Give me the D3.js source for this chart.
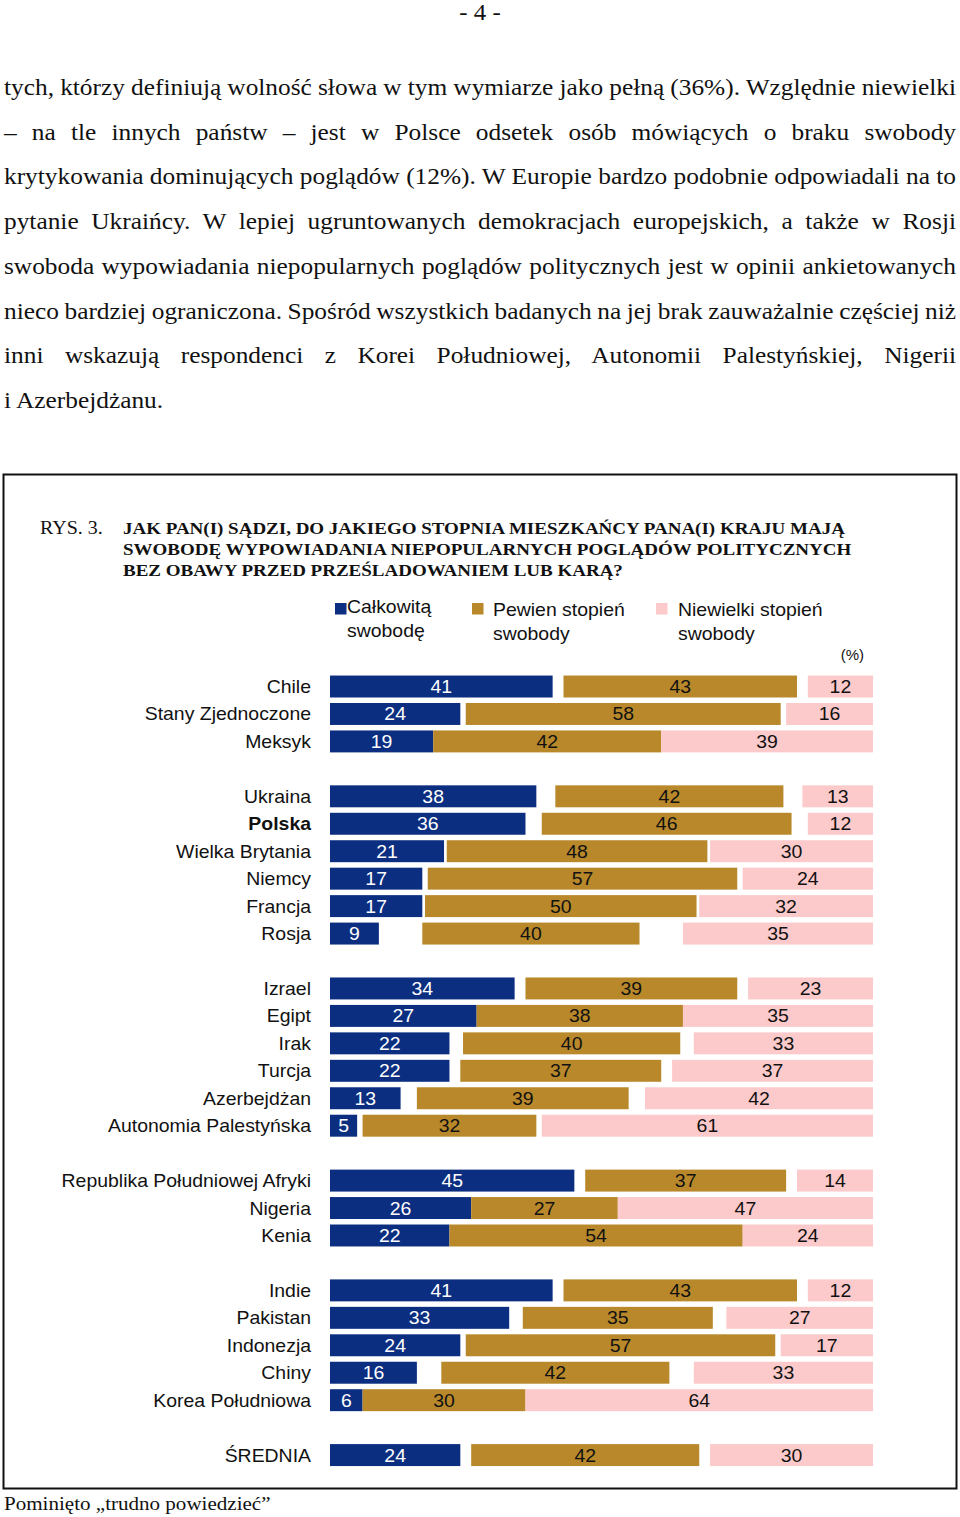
<!DOCTYPE html>
<html><head><meta charset="utf-8">
<script src="https://cdn.jsdelivr.net/npm/d3@7"></script>
<style>
html,body{margin:0;padding:0;background:#fff;}
svg{display:block;}
</style></head>
<body>
<svg id="c" width="960" height="1517"></svg>
<script>
// ---------- data ----------
const categories = ["Chile","Stany Zjednoczone","Meksyk",
 "Ukraina","Polska","Wielka Brytania","Niemcy","Francja","Rosja",
 "Izrael","Egipt","Irak","Turcja","Azerbejdżan","Autonomia Palestyńska",
 "Republika Południowej Afryki","Nigeria","Kenia",
 "Indie","Pakistan","Indonezja","Chiny","Korea Południowa",
 "ŚREDNIA"];
const groupSizes = [3, 6, 6, 3, 5, 1];
const calkowita = [41,24,19, 38,36,21,17,17,9, 34,27,22,22,13,5, 45,26,22, 41,33,24,16,6, 24];
const pewien    = [43,58,42, 42,46,48,57,50,40, 39,38,40,37,39,32, 37,27,54, 43,35,57,42,30, 42];
const niewielki = [12,16,39, 13,12,30,24,32,35, 23,35,33,37,42,61, 14,47,24, 12,27,17,33,64, 30];
const boldCategories = ["Polska"];
const seriesNames = ["Całkowitą|swobodę","Pewien stopień|swobody","Niewielki stopień|swobody"];
const paragraph = [
 "tych, którzy definiują wolność słowa w tym wymiarze jako pełną (36%). Względnie niewielki",
 "– na tle innych państw – jest w Polsce odsetek osób mówiących o braku swobody",
 "krytykowania dominujących poglądów (12%). W Europie bardzo podobnie odpowiadali na to",
 "pytanie Ukraińcy. W lepiej ugruntowanych demokracjach europejskich, a także w Rosji",
 "swoboda wypowiadania niepopularnych poglądów politycznych jest w opinii ankietowanych",
 "nieco bardziej ograniczona. Spośród wszystkich badanych na jej brak zauważalnie częściej niż",
 "inni wskazują respondenci z Korei Południowej, Autonomii Palestyńskiej, Nigerii",
 "i Azerbejdżanu."
];
const titleLines = [
 "JAK PAN(I) SĄDZI, DO JAKIEGO STOPNIA MIESZKAŃCY PANA(I) KRAJU MAJĄ",
 "SWOBODĘ WYPOWIADANIA NIEPOPULARNYCH POGLĄDÓW POLITYCZNYCH",
 "BEZ OBAWY PRZED PRZEŚLADOWANIEM LUB KARĄ?"
];

// ---------- styles ----------
const colors = ["#0b2e80", "#b8882a", "#fccaca"];
const labelColors = ["#ffffff", "#111111", "#111111"];
const SANS = "'Liberation Sans', Arial, sans-serif";
const SERIF = "'Liberation Serif', 'Times New Roman', serif";
const SX = 1.08; // horizontal stretch of the scanned page glyphs

const svg = d3.select("#c");

function addText(parent, x, y, txt, opts) {
  const t = parent.append("text")
    .attr("transform", `translate(${x},${y}) scale(${opts.sx || SX},1)`)
    .style("font-family", opts.family).style("font-size", opts.size + "px")
    .attr("fill", opts.fill || "#111")
    .attr("text-anchor", opts.anchor || "start")
    .text(txt);
  if (opts.bold) t.style("font-weight", "bold");
  if (opts.dy) t.attr("dy", opts.dy);
  return t;
}

// page header
addText(svg, 480, 20, "- 4 -", {family: SERIF, size: 23, anchor: "middle"});

// justified paragraph
const pLeft = 4, pRight = 956, pTop = 95, pStep = 44.7;
paragraph.forEach((line, i) => {
  const t = addText(svg, pLeft, pTop + i*pStep, line, {family: SERIF, size: 23.5});
  if (i < paragraph.length - 1) {
    const w = t.node().getComputedTextLength();
    const spaces = (line.match(/ /g) || []).length;
    t.style("word-spacing", (((pRight - pLeft)/SX - w)/spaces) + "px");
  }
});

// frame
svg.append("rect").attr("x", 3.5).attr("y", 474.5).attr("width", 953).attr("height", 1014)
  .attr("fill","none").attr("stroke","#111").attr("stroke-width", 2);

// title
addText(svg, 40, 534, "RYS. 3.", {family: SERIF, size: 18.5});
titleLines.forEach((l,i) => {
  addText(svg, 123, 534 + i*21, l, {family: SERIF, size: 17.6, bold: true});
});

// legend
const legendX = [335, 472, 656];
const legendTextX = [347, 493, 678];
const legendTop = [603, 603, 603];
const legendBase = [613, 616, 616];
seriesNames.forEach((n, i) => {
  svg.append("rect").attr("x", legendX[i]).attr("y", legendTop[i]).attr("width", 11.5).attr("height", 11.5)
    .attr("fill", colors[i]);
  n.split("|").forEach((part, j) => {
    addText(svg, legendTextX[i], legendBase[i] + j*23.5, part, {family: SANS, size: 18});
  });
});
addText(svg, 864, 660, "(%)", {family: SANS, size: 15, anchor: "end", sx: 1});

// rows with blank separators
const slots = [];
let k = 0;
groupSizes.forEach((g, gi) => {
  for (let j = 0; j < g; j++) slots.push(categories[k++]);
  if (gi < groupSizes.length - 1) slots.push("__gap" + gi);
});

const rows = categories.map((c, i) => ({cat: c, vals: [calkowita[i], pewien[i], niewielki[i]]}));

const x = d3.scaleLinear().domain([0, 100]).range([330, 873]);
const y = d3.scaleBand().domain(slots).range([672.8, 1468.8]).paddingInner(0.2).paddingOuter(0.1);

const segs = [];
rows.forEach(r => {
  const [a, b, c] = r.vals;
  const gap = (100 - a - b - c) / 2;
  const starts = [0, a + gap, a + b + 2*gap];
  r.vals.forEach((v, s) => segs.push({cat: r.cat, s, x0: starts[s], v}));
});

const g = svg.append("g");
g.selectAll("rect.bar").data(segs).join("rect").attr("class","bar")
  .attr("x", d => x(d.x0)).attr("width", d => x(d.x0 + d.v) - x(d.x0))
  .attr("y", d => y(d.cat)).attr("height", y.bandwidth())
  .attr("fill", d => colors[d.s]);

g.selectAll("text.val").data(segs).join("text").attr("class","val")
  .attr("transform", d => `translate(${x(d.x0 + d.v/2)},${y(d.cat) + y.bandwidth()/2}) scale(${SX},1)`)
  .attr("dy", "0.36em").attr("text-anchor","middle")
  .style("font-family", SANS).style("font-size","18px")
  .attr("fill", d => labelColors[d.s]).text(d => d.v);

// category axis
const yAxis = d3.axisLeft(y).tickSize(0).tickPadding(0)
  .tickFormat(d => d.startsWith("__gap") ? "" : d);
const ax = svg.append("g").attr("transform", "translate(311,0)").call(yAxis);
ax.select(".domain").remove();
ax.selectAll("text").style("font-family", SANS).style("font-size","18px").attr("fill","#111")
  .attr("x", 0).attr("dy","0.36em").attr("transform", `scale(${SX},1)`)
  .style("font-weight", d => boldCategories.includes(d) ? "bold" : "normal");

// footnote
addText(svg, 4, 1510, "Pominięto „trudno powiedzieć”", {family: SERIF, size: 19.5});
</script>
</body></html>
